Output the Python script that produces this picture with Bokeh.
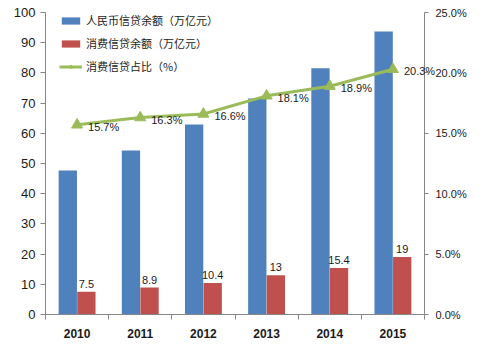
from bokeh.plotting import figure
from bokeh.models import (Range1d, LinearAxis, FixedTicker, PrintfTickFormatter,
                          ColumnDataSource, Legend, LegendItem, Label)
from bokeh.transform import dodge
from bokeh.core.properties import value
from bokeh.embed import file_html
from bokeh.resources import INLINE

years = [2010, 2011, 2012, 2013, 2014, 2015]
rmb_credit = [47.7, 54.3, 62.9, 71.5, 81.5, 93.7]
consumer_credit = [7.5, 8.9, 10.4, 13, 15.4, 19]
consumer_share = [15.7, 16.3, 16.6, 18.1, 18.9, 20.3]
left_ticks = [0, 10, 20, 30, 40, 50, 60, 70, 80, 90, 100]
right_ticks = [0, 5, 10, 15, 20, 25]
names = ["人民币信贷余额（万亿元）", "消费信贷余额（万亿元）", "消费信贷占比（%）"]

src = ColumnDataSource(dict(
    year=years, rmb=rmb_credit, cons=consumer_credit, share=consumer_share,
    cons_lbl=[("%g" % v) for v in consumer_credit],
))

FONT = "Liberation Sans"
CJK = "Noto Sans CJK SC"
AX = "#868686"
TXT = "#1a1a1a"

LEFT_MAX = 100
RIGHT_MAX = 25

p = figure(width=495, height=345, output_backend="svg", toolbar_location=None,
           x_range=Range1d(min(years) - 0.5, max(years) + 0.5),
           y_range=Range1d(0, LEFT_MAX),
           min_border_left=45, min_border_right=71, min_border_top=12,
           min_border_bottom=31)
p.outline_line_color = None
p.xgrid.visible = False
p.ygrid.visible = False
p.background_fill_color = "white"
p.border_fill_color = "white"

p.extra_y_ranges = {"pct": Range1d(0, RIGHT_MAX)}

b1 = p.vbar(x=dodge("year", -0.147, range=p.x_range), top="rmb", width=0.29,
            source=src, fill_color="#4F81BD", line_color=None)
b2 = p.vbar(x=dodge("year", 0.147, range=p.x_range), top="cons", width=0.29,
            source=src, fill_color="#C0504D", line_color=None)
ln = p.line(x="year", y="share", source=src, y_range_name="pct",
            line_color="#9BBB59", line_width=3)
mk = p.scatter(x="year", y="share", source=src, y_range_name="pct",
               marker="triangle", size=11, fill_color="#9BBB59", line_color="#9BBB59")

p.text(x=dodge("year", 0.147, range=p.x_range), y="cons", text="cons_lbl", source=src,
       text_align="center", text_baseline="bottom", y_offset=-4,
       text_font=value(FONT), text_font_size="11px", text_color=TXT)

# x axis
xa = p.xaxis[0]
xa.ticker = FixedTicker(ticks=years,
                        minor_ticks=[y - 0.5 for y in years] + [max(years) + 0.5])
xa.major_tick_line_color = None
xa.minor_tick_line_color = AX
xa.minor_tick_out = 5
xa.minor_tick_in = 0
xa.axis_line_color = AX
xa.major_label_text_font = FONT
xa.major_label_text_font_size = "12px"
xa.major_label_text_font_style = "bold"
xa.major_label_text_color = TXT
xa.major_label_standoff = 8

ya = p.yaxis[0]
ya.ticker = FixedTicker(ticks=left_ticks)
ya.minor_tick_line_color = None
ya.major_tick_out = 5
ya.major_tick_in = 0
ya.major_tick_line_color = AX
ya.axis_line_color = AX
ya.major_label_text_font = FONT
ya.major_label_text_font_size = "13px"
ya.major_label_text_color = TXT
ya.major_label_standoff = 5

ra = LinearAxis(y_range_name="pct", ticker=FixedTicker(ticks=right_ticks),
                formatter=PrintfTickFormatter(format="%.1f%%"))
ra.minor_tick_line_color = None
ra.major_tick_out = 4
ra.major_tick_in = 0
ra.major_tick_line_color = AX
ra.axis_line_color = AX
ra.major_label_text_font = FONT
ra.major_label_text_font_size = "11px"
ra.major_label_text_color = TXT
ra.major_label_standoff = 7
p.add_layout(ra, "right")

# share labels; the last one spills over the right axis as in the reference,
# so it lives in the top side panel where it is not clipped to the frame
last = len(years) - 1
for i, (yr, s) in enumerate(zip(years, consumer_share)):
    lbl = Label(x=yr, y=s, y_range_name="pct", text="%.1f%%" % s,
                text_align="left", text_baseline="middle",
                x_offset=11, y_offset=-2, text_font=FONT,
                text_font_size="11px", text_color=TXT)
    p.add_layout(lbl, "above" if i == last else "center")

legend = Legend(items=[
    LegendItem(label=names[0], renderers=[b1]),
    LegendItem(label=names[1], renderers=[b2]),
    LegendItem(label=names[2], renderers=[ln, mk]),
], location=(14, 240))
legend.border_line_color = None
legend.background_fill_alpha = 0
legend.padding = 0
legend.margin = 0
legend.spacing = 7
legend.glyph_width = 23
legend.glyph_height = 9
legend.label_height = 15
legend.label_standoff = 4
legend.label_text_font = CJK
legend.label_text_font_size = "11px"
legend.label_text_color = TXT
p.add_layout(legend, "center")

p.add_layout(Label(x=478, y=6, x_units="screen", y_units="screen", text="↵",
                   text_font=FONT, text_font_size="11px", text_color="#888888"))

open("out.html", "w").write(file_html(p, INLINE))
